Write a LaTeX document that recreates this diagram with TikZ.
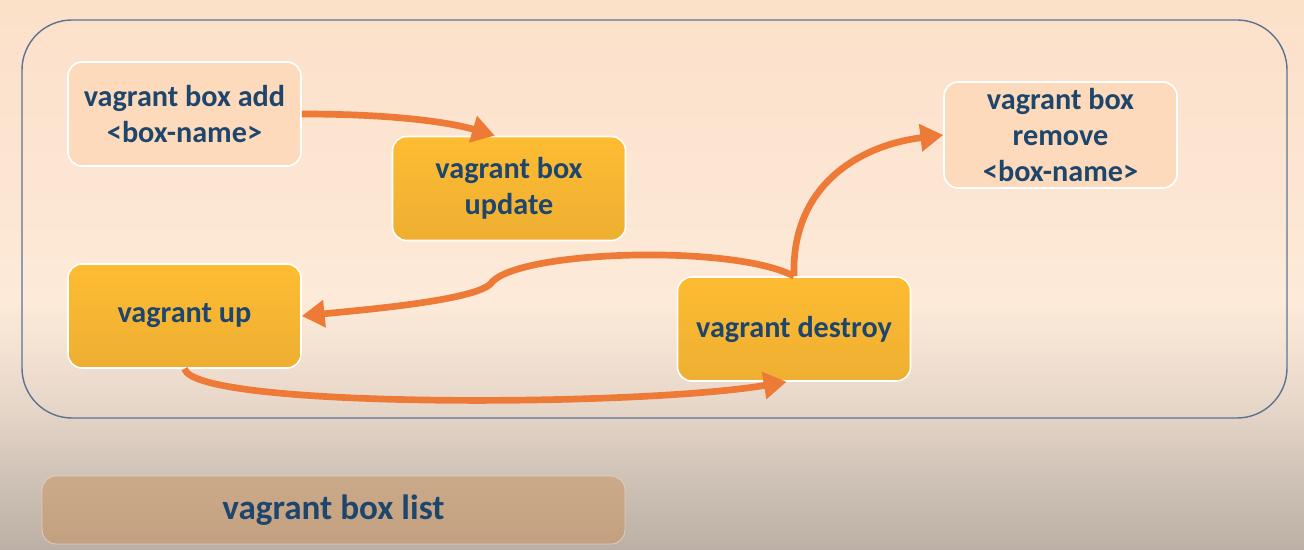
\documentclass[tikz,border=0pt]{standalone}
\usepackage{fontspec}
\setmainfont{Carlito}
\usetikzlibrary{arrows.meta,positioning,calc}
\definecolor{framecol}{RGB}{92,116,146}
\definecolor{cmdtext}{RGB}{30,70,108}
\definecolor{goldtop}{RGB}{254,188,50}
\definecolor{goldbot}{RGB}{238,175,50}
\definecolor{palefill}{RGB}{253,218,188}
\definecolor{listtop}{RGB}{203,170,138}
\definecolor{listbot}{RGB}{194,160,128}
\definecolor{flowcol}{RGB}{237,122,55}
% colours run from the bottom (25bp) to the top (75bp) of the filled area
\pgfdeclareverticalshading{bgfade}{100bp}{
    rgb(0bp)=(0.737,0.690,0.651);
    rgb(25bp)=(0.737,0.690,0.651);
    rgb(31bp)=(0.804,0.753,0.706);
    rgb(38.5bp)=(0.910,0.847,0.792);
    rgb(47.5bp)=(0.992,0.918,0.851);
    rgb(62.5bp)=(0.988,0.894,0.816);
    rgb(75bp)=(0.988,0.882,0.788);
    rgb(100bp)=(0.988,0.882,0.788)}
\tikzset{
    cmd box/.style={draw=white,line width=0.9pt,rounded corners=0.28cm,align=center,
        inner sep=0pt,minimum width=4.66cm,minimum height=2.08cm,text=cmdtext},
    gold box/.style={cmd box,top color=goldtop,bottom color=goldbot},
    pale box/.style={cmd box,fill=palefill},
    list box/.style={cmd box,draw=listtop!60!white,line width=0.5pt,top color=listtop,bottom color=listbot,
        minimum width=11.66cm,minimum height=1.36cm,font=\fontsize{20}{24}\selectfont\bfseries},
    frame line/.style={draw=framecol,line width=0.8pt,rounded corners=1cm},
    flow arr/.style={-{Triangle[length=13pt,width=15pt]},draw=flowcol,line width=3.8pt},
}
\tikzstyle{every node}=[font=\fontsize{17.2}{20.5}\selectfont\bfseries]

\begin{document}
\begin{tikzpicture}[x=0.02cm,y=-0.02cm]
        % background
        \fill[shading=bgfade] (0,0) rectangle (1304,550);
        \useasboundingbox (0,0) rectangle (1304,550);
        \draw[frame line] (22,20) rectangle (1287,418);

        \node[pale box] (boxadd) at (184.5,114) {vagrant box add\\<box-name>};
        \node[gold box] (boxupdate) at (509,188.5) {vagrant box\\update};
        \node[gold box] (vup) at (184.5,316) {vagrant up};
        \node[gold box] (vdestroy) at (794,329) {vagrant destroy};
        \node[pale box,minimum height=2.12cm] (boxremove) at (1060.5,135) {vagrant box\\remove\\<box-name>};
        \node[list box] (boxlist) at (333.5,510) {vagrant box list};

        \coordinate (kink) at (492,282);
        \draw[flow arr] (boxadd.east) .. controls +(100,0) and +(-40,-12) .. (boxupdate.105);
        \draw[flow arr] (vdestroy.north) .. controls +(-3,-92) and +(-82,10) .. (boxremove.west);
        \draw[flow arr] (vdestroy.north) .. controls +(-60,-32) and +(30,-32) .. (kink)
            .. controls +(-10,18) and +(60,-6) .. (vup.east);
        \draw[flow arr] (vup.south) .. controls +(10,40) and +(-150,25) .. (vdestroy.262);
    \end{tikzpicture}
\end{document}
